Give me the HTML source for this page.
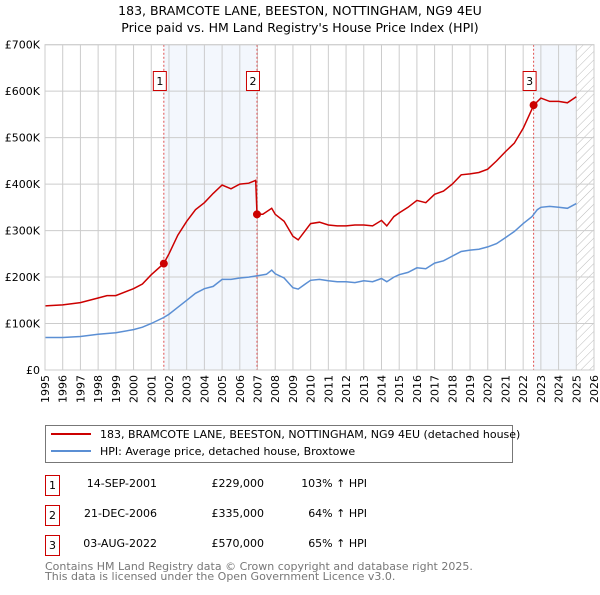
<!DOCTYPE html>
<html><head><meta charset="utf-8"><style>
body{margin:0;background:#fff;font-family:"Liberation Sans","DejaVu Sans",sans-serif;}
svg text{font-family:"DejaVu Sans","Liberation Sans",sans-serif;}
</style></head><body>
<svg width="600" height="590" xmlns="http://www.w3.org/2000/svg">
<text x="300" y="15" text-anchor="middle" font-size="12.5">183, BRAMCOTE LANE, BEESTON, NOTTINGHAM, NG9 4EU</text>
<text x="300" y="32" text-anchor="middle" font-size="12.5">Price paid vs. HM Land Registry's House Price Index (HPI)</text>
<defs><pattern id="hatch" width="6" height="6" patternUnits="userSpaceOnUse" patternTransform="rotate(45)"><line x1="0" y1="0" x2="0" y2="6" stroke="#bbb" stroke-width="1"/></pattern></defs>
<g id="plot"></g>
<g>
<rect x="45.5" y="425.5" width="467" height="37" fill="#fff" stroke="#777"/>
<line x1="51" y1="434" x2="91" y2="434" stroke="#cc0000" stroke-width="2"/>
<text x="100" y="438" font-size="11">183, BRAMCOTE LANE, BEESTON, NOTTINGHAM, NG9 4EU (detached house)</text>
<line x1="51" y1="451" x2="91" y2="451" stroke="#5b8fd4" stroke-width="2"/>
<text x="100" y="455" font-size="11">HPI: Average price, detached house, Broxtowe</text>
</g>
<g font-size="11">
<rect x="45.5" y="475.5" width="14" height="20" fill="#fff" stroke="#cc0000"/><text x="52.5" y="489" text-anchor="middle">1</text>
<text x="157" y="487" text-anchor="end">14-SEP-2001</text><text x="264" y="487" text-anchor="end">£229,000</text><text x="367" y="487" text-anchor="end">103% ↑ HPI</text>
<rect x="45.5" y="505.5" width="14" height="20" fill="#fff" stroke="#cc0000"/><text x="52.5" y="519" text-anchor="middle">2</text>
<text x="157" y="517" text-anchor="end">21-DEC-2006</text><text x="264" y="517" text-anchor="end">£335,000</text><text x="367" y="517" text-anchor="end">64% ↑ HPI</text>
<rect x="45.5" y="535.5" width="14" height="20" fill="#fff" stroke="#cc0000"/><text x="52.5" y="549" text-anchor="middle">3</text>
<text x="157" y="547" text-anchor="end">03-AUG-2022</text><text x="264" y="547" text-anchor="end">£570,000</text><text x="367" y="547" text-anchor="end">65% ↑ HPI</text>
</g>
<text x="45" y="570" font-size="11" fill="#777">Contains HM Land Registry data © Crown copyright and database right 2025.</text>
<text x="45" y="580" font-size="11" fill="#777">This data is licensed under the Open Government Licence v3.0.</text>
</svg>
<script>
const yTicks=[0,100,200,300,400,500,600,700];
const yTickLabels=["£0","£100K","£200K","£300K","£400K","£500K","£600K","£700K"];
const years=[1995,1996,1997,1998,1999,2000,2001,2002,2003,2004,2005,2006,2007,2008,2009,2010,2011,2012,2013,2014,2015,2016,2017,2018,2019,2020,2021,2022,2023,2024,2025,2026];
const hpiT=[1995,1996,1997,1998,1999,2000,2000.5,2001,2001.7,2002,2002.5,2003,2003.5,2004,2004.5,2005,2005.5,2006,2006.5,2007,2007.5,2007.8,2008,2008.5,2009,2009.3,2009.7,2010,2010.5,2011,2011.5,2012,2012.5,2013,2013.5,2014,2014.3,2014.7,2015,2015.5,2016,2016.5,2017,2017.5,2018,2018.5,2019,2019.5,2020,2020.5,2021,2021.5,2022,2022.5,2022.8,2023,2023.5,2024,2024.5,2025];
const hpiV=[70,70,72,77,80,87,92,100,113,120,135,150,165,175,180,195,195,198,200,203,206,215,207,198,177,174,185,193,195,192,190,190,188,192,190,197,190,200,205,210,220,218,230,235,245,255,258,260,265,272,285,298,315,330,345,350,352,350,348,358];
const priceT=[1995,1996,1997,1998,1998.5,1999,2000,2000.5,2001,2001.7,2002,2002.5,2003,2003.5,2004,2004.5,2005,2005.5,2006,2006.5,2006.9,2006.97,2007.3,2007.8,2008,2008.5,2009,2009.3,2009.7,2010,2010.5,2011,2011.5,2012,2012.5,2013,2013.5,2014,2014.3,2014.7,2015,2015.5,2016,2016.5,2017,2017.5,2018,2018.5,2019,2019.5,2020,2020.5,2021,2021.5,2022,2022.6,2023,2023.5,2024,2024.5,2025];
const priceV=[138,140,145,155,160,160,175,185,205,229,250,290,320,345,360,380,398,390,400,402,408,335,335,348,335,320,288,280,300,315,318,312,310,310,312,312,310,322,310,330,338,350,365,360,378,385,400,420,422,425,432,450,470,488,520,570,585,578,578,575,588];
const saleT=[2001.71,2006.97,2022.59];
const saleV=[229,335,570];
const saleLabels=["1","2","3"];
const NS="http://www.w3.org/2000/svg";
const X0=45,X1=594,Y0=370,Y1=44.7;
const xs=t=>X0+(t-1995)/(2026-1995)*(X1-X0);
const ys=v=>Y0-v/700*(Y0-Y1);
const g=document.getElementById('plot');
function el(tag,a){const e=document.createElementNS(NS,tag);for(const k in a)e.setAttribute(k,a[k]);g.appendChild(e);return e;}
let e;
e=el('rect',{x:xs(saleT[0]),y:Y1,width:xs(saleT[1])-xs(saleT[0]),height:Y0-Y1,fill:'#eef3fc',opacity:0.7});


e=el('rect',{x:xs(saleT[2]),y:Y1,width:xs(2025)-xs(saleT[2]),height:Y0-Y1,fill:'#eef3fc',opacity:0.7});


e=el('rect',{x:xs(2025),y:Y1,width:X1-xs(2025),height:Y0-Y1,fill:'url(#hatch)'});


years.forEach(y=>{
 e=el('line',{x1:xs(y),x2:xs(y),y1:Y1,y2:Y0,stroke:'#ccc','stroke-width':1});
 
 
 const tx=xs(y)+4, ty=Y0+5;
 e=el('text',{x:tx,y:ty,'text-anchor':'end','font-size':11,transform:'rotate(-90 '+tx+' '+ty+')'});
 
 
 e.textContent=y;
});
yTicks.forEach((v,i)=>{
 e=el('line',{x1:X0,x2:X1,y1:ys(v),y2:ys(v),stroke:'#ccc','stroke-width':1});
 
 
 e=el('text',{x:X0-5,y:ys(v)+4,'text-anchor':'end','font-size':11});
 
 
 e.textContent=yTickLabels[i];
});
saleT.forEach((t,i)=>{
 e=el('line',{x1:xs(t),x2:xs(t),y1:Y1,y2:Y0,stroke:'#e05050','stroke-width':1,'stroke-dasharray':'2,2'});
 
 
 e=el('rect',{x:xs(t)-10.5,y:71.5,width:13,height:19,fill:'#fff',stroke:'#cc0000'});
 
 
 e=el('text',{x:xs(t)-4,y:85,'text-anchor':'middle','font-size':11});
 
 
 e.textContent=saleLabels[i];
});
function path(T,V,c,name){
 const d=T.map((t,i)=>(i?'L':'M')+xs(t).toFixed(1)+','+ys(V[i]).toFixed(1)).join('');
 const p=el('path',{d:d,fill:'none',stroke:c,'stroke-width':1.5});
 
 
}
path(hpiT,hpiV,'#5b8fd4','hpi-line');
path(priceT,priceV,'#cc0000','price-line');
saleT.forEach((t,i)=>{
 e=el('circle',{cx:xs(t),cy:ys(saleV[i]),r:4,fill:'#cc0000'});
 
 
});
e=el('rect',{x:X0,y:Y1,width:X1-X0,height:Y0-Y1,fill:'none',stroke:'#ccc'});


</script>
</body></html>
